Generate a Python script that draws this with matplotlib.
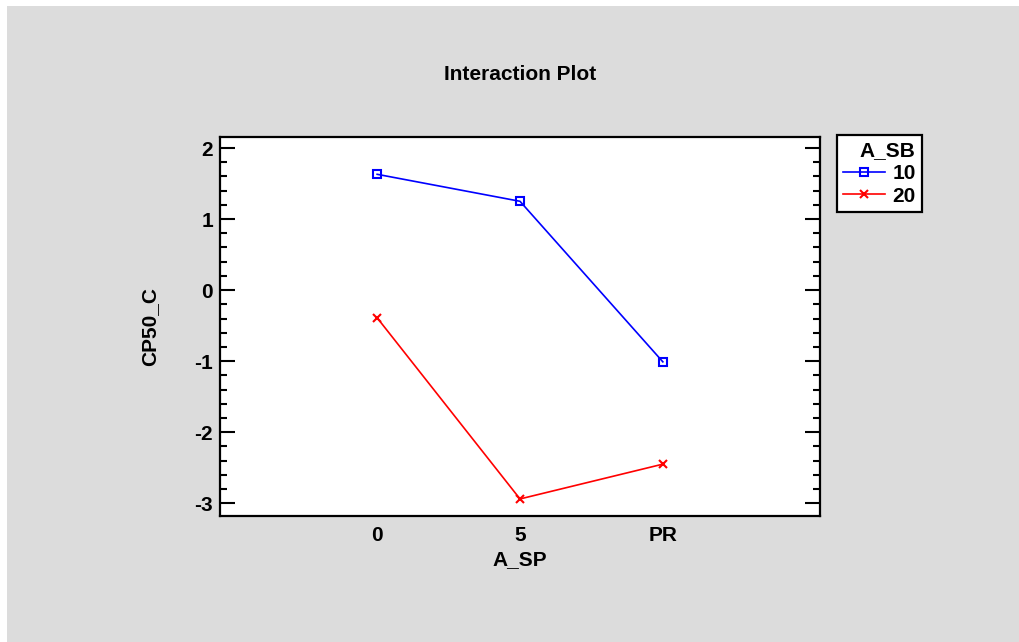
import numpy as np
import matplotlib
matplotlib.use('Agg')
import matplotlib.pyplot as plt
from matplotlib.patches import Rectangle
from matplotlib.ticker import MultipleLocator, NullLocator

plt.rcParams['font.family'] = ['Liberation Sans', 'DejaVu Sans']
plt.rcParams['axes.unicode_minus'] = False

# data
categories = ['0', '5', 'PR']
sb_levels = ['10', '20']
cp50_sb10 = [1.63, 1.25, -1.01]
cp50_sb20 = [-0.39, -2.94, -2.45]

fs = 15

fig = plt.figure(figsize=(10.2, 6.42), dpi=100)
fig.patch.set_facecolor('white')
# grey panel behind the chart
fig.patches.append(Rectangle((7/1020, 0), 1 - 7/1020, 1 - 6/642,
                             transform=fig.transFigure, facecolor='#dcdcdc',
                             edgecolor='none', zorder=-10))

ax = fig.add_axes([220/1020, 1 - 516/642, 600/1020, 379/642])
ax.set_facecolor('white')

x = np.arange(len(categories))
ax.plot(x, cp50_sb10, color='#0000ff', lw=1.2, marker='s', ms=6,
        mfc='none', mec='#0000ff', mew=1.5, label=sb_levels[0])
ax.plot(x, cp50_sb20, color='#ff0000', lw=1.2, marker='x', ms=6,
        mew=1.5, label=sb_levels[1])

ax.set_xlim(-1.1, 3.1)
ax.set_ylim(-3.18, 2.155)
ax.set_xticks(x)
ax.set_xticklabels(categories)
ax.yaxis.set_major_locator(MultipleLocator(1))
ax.yaxis.set_minor_locator(MultipleLocator(0.2))
ax.xaxis.set_minor_locator(NullLocator())

for s in ax.spines.values():
    s.set_linewidth(1.6)
ax.tick_params(axis='y', which='major', direction='in', length=11, width=1.5,
               left=True, right=True, labelsize=fs, pad=5)
ax.tick_params(axis='y', which='minor', direction='in', length=5, width=1.5,
               left=True, right=True)
ax.tick_params(axis='x', which='major', length=0, labelsize=fs, pad=7)
for lab in ax.get_xticklabels() + ax.get_yticklabels():
    lab.set_fontweight('bold')

ax.set_xlabel('A_SP', fontsize=fs, fontweight='bold', labelpad=4)
ax.set_ylabel('CP50_C', fontsize=fs, fontweight='bold', labelpad=25)
fig.text(520/1020, 1 - 74/642, 'Interaction Plot', fontsize=fs,
         fontweight='bold', ha='center', va='center')

leg = fig.legend(loc='upper left', bbox_to_anchor=(837/1020, 1 - 135/642),
                 title='A_SB', fancybox=False, edgecolor='black',
                 framealpha=1, handlelength=2.0, borderpad=0.3,
                 labelspacing=0.18, handletextpad=0.35, borderaxespad=0,
                 prop={'weight': 'bold', 'size': fs},
                 title_fontproperties={'weight': 'bold', 'size': fs})
leg.get_frame().set_linewidth(1.6)
leg._legend_box.align = 'right'

fig.savefig('out.png', dpi=100, facecolor=fig.get_facecolor())
